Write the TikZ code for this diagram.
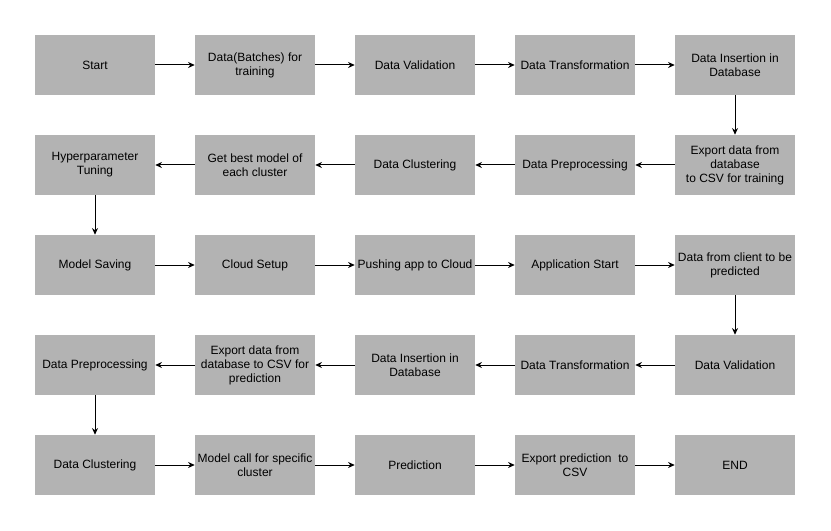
\documentclass[tikz,border=0pt]{standalone}
\usepackage{fontspec}
\setmainfont{Liberation Sans}
\usepackage{tikz}
\usetikzlibrary{arrows.meta}
\definecolor{stepgray}{RGB}{179,179,179}

\begin{document}
\begin{tikzpicture}[x=0.75pt,y=-0.75pt]

%
% Styles
%
\tikzstyle{stage} = [rectangle,fill=stepgray,minimum width=90pt,minimum height=45pt,
                     inner sep=0pt,align=center,font=\fontsize{9pt}{10.5pt}\selectfont]
\tikzstyle{edge}  = [-{Stealth[length=5pt,width=4.5pt]},line width=0.75pt]

\useasboundingbox (0,0) rectangle (831,531);

% training
\node[stage] (start)   at ( 95, 65) {Start};
\node[stage] (batches) at (255, 65) {Data(Batches) for\\training};
\node[stage] (valid)   at (415, 65) {Data Validation};
\node[stage] (transf)  at (575, 65) {Data Transformation};
\node[stage] (insert)  at (735, 65) {Data Insertion in\\Database};

\node[stage] (export)  at (735,165) {Export data from\\database\\to CSV for training};
\node[stage] (prep)    at (575,165) {Data Preprocessing};
\node[stage] (clust)   at (415,165) {Data Clustering};
\node[stage] (best)    at (255,165) {Get best model of\\each cluster};
\node[stage] (tuning)  at ( 95,165) {Hyperparameter\\Tuning};

% deployment
\node[stage] (saving)  at ( 95,265) {Model Saving};
\node[stage] (cloud)   at (255,265) {Cloud Setup};
\node[stage] (push)    at (415,265) {Pushing app to Cloud};
\node[stage] (app)     at (575,265) {Application Start};
\node[stage] (client)  at (735,265) {Data from client to be\\predicted};

% prediction
\node[stage] (pvalid)  at (735,365) {Data Validation};
\node[stage] (ptransf) at (575,365) {Data Transformation};
\node[stage] (pinsert) at (415,365) {Data Insertion in\\Database};
\node[stage] (pexport) at (255,365) {Export data from\\database to CSV for\\prediction};
\node[stage] (pprep)   at ( 95,365) {Data Preprocessing};

\node[stage] (pclust)  at ( 95,465) {Data Clustering};
\node[stage] (call)    at (255,465) {Model call for specific\\cluster};
\node[stage] (predict) at (415,465) {Prediction};
\node[stage] (pcsv)    at (575,465) {Export prediction~ to\\CSV};
\node[stage] (finish)  at (735,465) {END};

\draw[edge] (start)   -- (batches);
\draw[edge] (batches) -- (valid);
\draw[edge] (valid)   -- (transf);
\draw[edge] (transf)  -- (insert);
\draw[edge] (insert)  -- (export);
\draw[edge] (export)  -- (prep);
\draw[edge] (prep)    -- (clust);
\draw[edge] (clust)   -- (best);
\draw[edge] (best)    -- (tuning);
\draw[edge] (tuning)  -- (saving);
\draw[edge] (saving)  -- (cloud);
\draw[edge] (cloud)   -- (push);
\draw[edge] (push)    -- (app);
\draw[edge] (app)     -- (client);
\draw[edge] (client)  -- (pvalid);
\draw[edge] (pvalid)  -- (ptransf);
\draw[edge] (ptransf) -- (pinsert);
\draw[edge] (pinsert) -- (pexport);
\draw[edge] (pexport) -- (pprep);
\draw[edge] (pprep)   -- (pclust);
\draw[edge] (pclust)  -- (call);
\draw[edge] (call)    -- (predict);
\draw[edge] (predict) -- (pcsv);
\draw[edge] (pcsv)    -- (finish);

\end{tikzpicture}
\end{document}
